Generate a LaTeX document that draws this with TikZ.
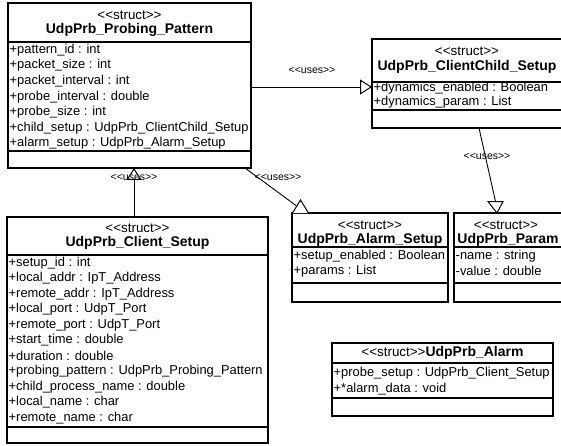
\documentclass[tikz,border=0pt]{standalone}
\usepackage{fontspec}
\setmainfont{Liberation Sans}
\usetikzlibrary{arrows.meta,calc}

% guillemet-free stereotype brackets
\newcommand\stlt{<\kern0pt<}
\newcommand\stgt{>\kern0pt>}

\tikzset{
  umlbox/.style={draw, line width=1.3pt, rectangle, outer sep=0pt, inner sep=0pt, anchor=north west},
  sepline/.style={line width=1.3pt},
  stereo/.style={inner sep=0pt, font=\fontsize{13.4}{15}\selectfont},
  cname/.style={inner sep=0pt, font=\bfseries\fontsize{14}{16}\selectfont},
  attr/.style={anchor=west, inner sep=1pt, font=\fontsize{12.9}{15}\selectfont},
  uses/.style={inner sep=0pt, font=\fontsize{10.5}{12}\selectfont},
  conn/.style={line width=0.9pt},
  opentip/.style={-{Triangle[open, length=12pt, width=15pt, line width=1pt]}},
  openhead/.style={line width=1pt, fill=white},
}

\begin{document}
\begin{tikzpicture}[x=1pt, y=-1pt]
\useasboundingbox (0,0) rectangle (561,446);

% ---- UdpPrb_Probing_Pattern ----
\node[umlbox, minimum width=243pt, minimum height=165pt] (pp) at (8,3) {};
\draw[sepline] (8,42) -- (251,42);
\draw[sepline] (8,151) -- (251,151);
\node[stereo] (pps) at (129.5,15) {\stlt struct\stgt};
\node[cname]  (ppn) at (129.5,30) {UdpPrb\_Probing\_Pattern};
\foreach \t [count=\i from 0] in {+pattern\_id : int, +packet\_size : int,
    +packet\_interval : int, +probe\_interval : double, +probe\_size : int,
    +child\_setup : UdpPrb\_ClientChild\_Setup, +alarm\_setup : UdpPrb\_Alarm\_Setup}
  \node[attr] (ppa\i) at (8.5,50+15.6*\i) {\t};

% ---- UdpPrb_ClientChild_Setup ----
\node[umlbox, minimum width=191pt, minimum height=89pt] (cc) at (372,39) {};
\draw[sepline] (372,82) -- (563,82);
\draw[sepline] (372,110) -- (563,110);
\node[stereo] (ccs) at (467,51.5) {\stlt struct\stgt};
\node[cname]  (ccn) at (467,66.5) {UdpPrb\_ClientChild\_Setup};
\node[attr] (cca0) at (372.5,88.5) {+dynamics\_enabled : Boolean};
\node[attr] (cca1) at (372.5,102.5) {+dynamics\_param : List};

% ---- UdpPrb_Client_Setup ----
\node[umlbox, minimum width=261pt, minimum height=226pt] (cs) at (7,217) {};
\draw[sepline] (7,255) -- (268,255);
\draw[sepline] (7,427) -- (268,427);
\node[stereo] (css) at (137.5,228) {\stlt struct\stgt};
\node[cname]  (csn) at (137.5,243) {UdpPrb\_Client\_Setup};
\foreach \t [count=\i from 0] in {+setup\_id : int, +local\_addr : IpT\_Address,
    +remote\_addr : IpT\_Address, +local\_port : UdpT\_Port, +remote\_port : UdpT\_Port,
    +start\_time : double, +duration : double,
    +probing\_pattern : UdpPrb\_Probing\_Pattern, +child\_process\_name : double,
    +local\_name : char, +remote\_name : char}
  \node[attr] (csa\i) at (7.5,263+15.5*\i) {\t};

% ---- UdpPrb_Alarm_Setup ----
\node[umlbox, minimum width=156pt, minimum height=89pt] (as) at (292,213) {};
\draw[sepline] (292,247) -- (448,247);
\draw[sepline] (292,283) -- (448,283);
\node[stereo] (ass) at (370,225) {\stlt struct\stgt};
\node[cname]  (asn) at (370,240) {UdpPrb\_Alarm\_Setup};
\node[attr] (asa0) at (292.5,256) {+setup\_enabled : Boolean};
\node[attr] (asa1) at (292.5,271) {+params : List};

% ---- UdpPrb_Param ----
\node[umlbox, minimum width=109pt, minimum height=89pt] (pa) at (454,213) {};
\draw[sepline] (454,247) -- (563,247);
\draw[sepline] (454,283) -- (563,283);
\node[stereo] (pas) at (506,225) {\stlt struct\stgt};
\node[cname]  (pan) at (508,240) {UdpPrb\_Param};
\node[attr] (paa0) at (454.5,256) {-name : string};
\node[attr] (paa1) at (454.5,271) {-value : double};

% ---- UdpPrb_Alarm ----
\node[umlbox, minimum width=221pt, minimum height=73pt] (al) at (332,343) {};
\draw[sepline] (332,363) -- (553,363);
\draw[sepline] (332,398) -- (553,398);
\node[stereo] (aln) at (442.5,353) {\stlt struct\stgt\textbf{\fontsize{14}{16}\selectfont UdpPrb\_Alarm}};
\node[attr] (ala0) at (332.5,373) {+probe\_setup : UdpPrb\_Client\_Setup};
\node[attr] (ala1) at (332.5,389) {+*alarm\_data : void};

% ---- dependencies ----
% Probing pattern uses the client child setup
\draw[conn, opentip] (pp.east |- 0,87) -- (cc.west |- 0,87);
\node[uses] (u1) at (312,70) {\stlt uses\stgt};

% Client setup uses the probing pattern
\draw[conn, opentip] (cs.north -| 134,0) -- (pp.south -| 134,0);
\node[uses] (u2) at (134,177) {\stlt uses\stgt};

% Probing pattern uses the alarm setup
\coordinate (t3) at (296,205.5);
\draw[conn] (pp.south -| 245,0) -- (t3);
\draw[openhead] (as.north -| 292.5,0) -- (300.5,200) -- (as.north -| 308.5,0);
\node[uses] (u3) at (278,177) {\stlt uses\stgt};

% Client child setup uses the parameter
\coordinate (t4) at (495.5,201.5);
\draw[conn] (cc.south -| 479,0) -- (t4);
\draw[openhead] (488,201.5) -- (pa.north -| 497,0) -- (503,201.5) -- cycle;
\node[uses] (u4) at (487,156) {\stlt uses\stgt};
\end{tikzpicture}
\end{document}
